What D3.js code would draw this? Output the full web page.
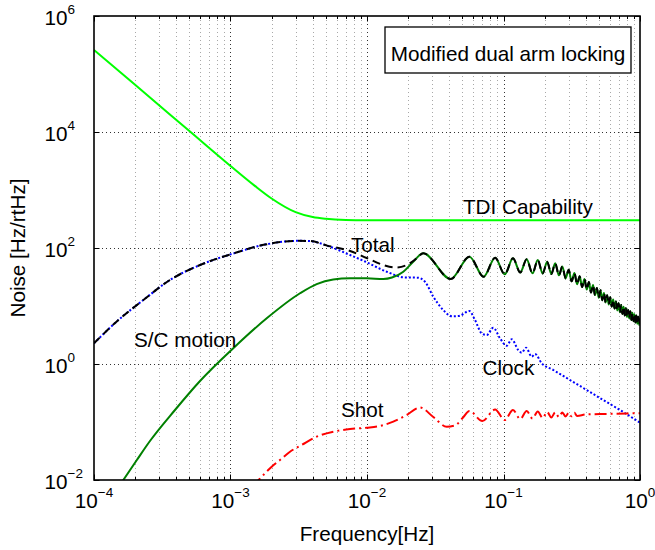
<!DOCTYPE html>
<html><head><meta charset="utf-8">
<script src="https://cdn.jsdelivr.net/npm/d3@7"></script>
<style>
body{margin:0;background:#fff;}
text{font-family:"Liberation Sans",Arial,Helvetica,sans-serif;fill:#000;}
</style></head><body>
<svg id="chart" width="655" height="550"></svg>
<script>
// ---------- data ----------
const xTickValues = [1e-4, 1e-3, 1e-2, 1e-1, 1];
const xTickExponents = ["\u22124", "\u22123", "\u22122", "\u22121", "0"];
const yTickValues = [1e-2, 1e0, 1e2, 1e4, 1e6];
const yTickExponents = ["\u22122", "0", "2", "4", "6"];

const tdiFreq   = [1e-4, 2e-4, 5e-4, 1e-3, 1.5e-3, 2e-3, 3e-3, 4e-3, 5e-3, 7e-3, 1e-2, 3e-2, 1e-1, 1];
const tdiValues = [2.6e5, 6.5e4, 1.04e4, 2600, 1190, 714, 415, 341, 318, 304, 301, 300, 300, 300];

const clockFreq = [1e-4, 1.51e-4, 2.30e-4, 3.60e-4, 5.98e-4, 1.02e-3, 1.79e-3, 3.12e-3, 3.82e-3, 5.09e-3,
  7.51e-3, 9.67e-3, 1.394e-2, 1.90e-2, 2.36e-2, 2.66e-2, 3.06e-2, 3.62e-2, 4.20e-2, 4.72e-2,
  5.62e-2, 6.18e-2, 6.92e-2, 7.53e-2, 8.42e-2, 9.43e-2, 0.1055, 0.1148, 0.1283, 0.1359,
  0.1462, 0.1609, 0.1701, 0.1905, 0.2317, 0.307, 0.407, 0.538, 0.714, 1];
const clockValues = [2.28, 5.74, 12.7, 28.1, 50.9, 78.8, 114.5, 133, 132, 110,
  75.7, 58.5, 39.0, 31.0, 30.8, 26.2, 14.5, 8.53, 6.64, 6.73,
  8.20, 5.74, 3.38, 3.16, 4.22, 2.77, 2.07, 2.67, 1.74, 1.57,
  1.91, 1.34, 1.49, 1.03, 0.788, 0.530, 0.356, 0.239, 0.161, 0.0973];

// S/C motion: smooth low-frequency part
const scFreq   = [1.5e-4, 1.64e-4, 2.06e-4, 2.57e-4, 3.92e-4, 5.98e-4, 1.048e-3, 1.842e-3, 3.23e-3,
  4.28e-3, 5.66e-3, 7.51e-3, 9.95e-3, 1.316e-2, 1.524e-2, 1.845e-2, 2.18e-2];
const scValues = [7.28e-3, 0.01, 0.0221, 0.047, 0.161, 0.509, 1.87, 6.14, 16.6,
  23.9, 28.6, 30.0, 30.0, 29.2, 31.0, 39.0, 58.0];
// S/C motion: oscillating part (alternating peaks / troughs)
const scOscFreq = [0.0258, 0.0411, 0.0563, 0.0716, 0.0868, 0.1021, 0.1173, 0.1326, 0.1478, 0.1631,
  0.1783, 0.1936, 0.2088, 0.2241, 0.2393, 0.2546, 0.2698, 0.2851, 0.3003, 0.3156,
  0.3308, 0.3461, 0.3613, 0.3766, 0.3918, 0.4071, 0.4223, 0.4376, 0.4528, 0.4681,
  0.4833, 0.4986, 0.5138, 0.5291, 0.5443, 0.5596, 0.5748, 0.5901, 0.6053, 0.6206,
  0.6358, 0.6511, 0.6663, 0.6816, 0.6968, 0.7121, 0.7273, 0.7426, 0.7578, 0.7731,
  0.7883, 0.8036, 0.8188, 0.8341, 0.8493, 0.8646, 0.8798, 0.8951, 0.9103, 0.9256,
  0.9408, 0.9561, 0.9713, 0.9866, 1.0];
const scOscValues = [81.0, 29.2, 70.8, 32.0, 68.0, 35.2, 66.4, 37.8, 64.1, 36.6,
  62.1, 36.3, 58.0, 35.6, 54.5, 33.8, 48.1, 29.9, 42.1, 26.6,
  36.9, 23.7, 32.6, 21.2, 29.1, 19.2, 25.9, 17.1, 23.0, 15.4,
  20.5, 13.9, 18.6, 12.6, 16.8, 11.5, 15.3, 10.6, 14.1, 9.76,
  12.9, 9.02, 12.0, 8.40, 11.1, 7.79, 10.4, 7.31, 9.73, 6.88,
  9.13, 6.49, 8.57, 6.11, 8.10, 5.76, 7.66, 5.47, 7.22, 5.21,
  6.86, 4.95, 6.51, 4.70, 6.1];

const shotFreq = [1.437e-3, 1.626e-3, 2.003e-3, 2.305e-3, 2.729e-3, 3.322e-3, 4.28e-3, 5.66e-3, 7.51e-3, 9.95e-3,
  1.245e-2, 1.558e-2, 1.953e-2, 2.444e-2, 3.06e-2, 3.84e-2, 4.41e-2, 5.07e-2, 5.63e-2, 7.0e-2,
  8.68e-2, 0.1021, 0.1173, 0.1326, 0.1478, 0.1631, 0.1783, 0.1936, 0.2088, 0.2241,
  0.2393, 0.2546, 0.2698, 0.2851, 0.3003, 0.3156, 0.3308, 0.3461, 0.40, 0.60, 1.0];
const shotValues = [7.57e-3, 0.01028, 0.01696, 0.02213, 0.03075, 0.0401, 0.0558, 0.0680, 0.0757, 0.0797,
  0.0853, 0.1012, 0.132, 0.178, 0.122, 0.083, 0.087, 0.1205, 0.155, 0.104,
  0.164, 0.108, 0.161, 0.1126, 0.155, 0.1149, 0.1517, 0.1172, 0.1487, 0.1196,
  0.147, 0.122, 0.1458, 0.1239, 0.1447, 0.1254, 0.1441, 0.1269, 0.135, 0.138, 0.142];

// Total: low/mid part; above 0.026 Hz it coincides with the S/C motion oscillations
const totalFreq   = [1e-4, 1.51e-4, 2.30e-4, 3.60e-4, 5.98e-4, 1.02e-3, 1.79e-3, 3.12e-3, 3.82e-3, 5.09e-3,
  7.51e-3, 9.95e-3, 1.316e-2, 1.604e-2, 1.953e-2, 2.312e-2];
const totalValues = [2.28, 5.74, 12.7, 28.1, 50.9, 78.8, 114.5, 133, 132, 110,
  88.8, 67.2, 50.9, 46.1, 50.9, 66.4];

const labels = [
  {text: "TDI Capability", f: 0.0505, v: 385},
  {text: "Total", f: 7.63e-3, v: 86.3},
  {text: "S/C motion", f: 1.963e-4, v: 1.99},
  {text: "Clock", f: 0.0702, v: 0.646},
  {text: "Shot", f: 6.45e-3, v: 0.1235}
];
const legendTitle = "Modified dual arm locking";

// ---------- layout ----------
const L = 94, R = 640, T = 16, B = 480;
const FS = 20.7;
const svg = d3.select("#chart");
const x = d3.scaleLog().domain([1e-4, 1]).range([L, R]);
const y = d3.scaleLog().domain([1e-2, 1e6]).range([B, T]);

svg.append("rect").attr("width", 655).attr("height", 550).attr("fill", "#fff");

svg.append("defs").append("clipPath").attr("id", "clip")
  .append("rect").attr("x", L).attr("y", T).attr("width", R - L).attr("height", B - T);

// grid
const grid = svg.append("g");
const allX = x.ticks();
const minorX = allX.filter(t => !xTickValues.some(m => Math.abs(Math.log10(t) - Math.log10(m)) < 1e-6));
grid.selectAll(".gminor").data(minorX).join("line")
  .attr("x1", d => Math.round(x(d)) + 0.5).attr("x2", d => Math.round(x(d)) + 0.5)
  .attr("y1", T).attr("y2", B)
  .attr("stroke", "#a8a8a8").attr("stroke-width", 1).attr("stroke-dasharray", "1,3");
grid.selectAll(".gmajx").data(xTickValues.slice(1, -1)).join("line")
  .attr("x1", d => Math.round(x(d)) + 0.5).attr("x2", d => Math.round(x(d)) + 0.5)
  .attr("y1", T).attr("y2", B)
  .attr("stroke", "#333").attr("stroke-width", 1).attr("stroke-dasharray", "1,3");
grid.selectAll(".gmajy").data(yTickValues.slice(1, -1)).join("line")
  .attr("y1", d => Math.round(y(d)) + 0.5).attr("y2", d => Math.round(y(d)) + 0.5)
  .attr("x1", L).attr("x2", R)
  .attr("stroke", "#333").attr("stroke-width", 1).attr("stroke-dasharray", "1,3");

// curves
const line = d3.line().x(d => x(d[0])).y(d => y(d[1])).curve(d3.curveMonotoneX);
const plot = svg.append("g").attr("clip-path", "url(#clip)");

const tdi = d3.zip(tdiFreq, tdiValues);
const clock = d3.zip(clockFreq, clockValues);
const sc = d3.zip(scFreq, scValues).concat(d3.zip(scOscFreq, scOscValues));
const shot = d3.zip(shotFreq, shotValues);
const total = d3.zip(totalFreq, totalValues).concat(d3.zip(scOscFreq, scOscValues));

plot.append("path").datum(tdi).attr("d", line).attr("fill", "none")
  .attr("stroke", "#00ff00").attr("stroke-width", 2);
plot.append("path").datum(clock).attr("d", line).attr("fill", "none")
  .attr("stroke", "#0000ff").attr("stroke-width", 2).attr("stroke-dasharray", "2,2");
plot.append("path").datum(sc).attr("d", line).attr("fill", "none")
  .attr("stroke", "#008000").attr("stroke-width", 2);
plot.append("path").datum(shot).attr("d", line).attr("fill", "none")
  .attr("stroke", "#ff0000").attr("stroke-width", 2).attr("stroke-dasharray", "12,4,2,4");
plot.append("path").datum(total).attr("d", line).attr("fill", "none")
  .attr("stroke", "#000").attr("stroke-width", 2).attr("stroke-dasharray", "8,5");

// box and ticks
const ax = svg.append("g");
ax.append("rect").attr("x", L).attr("y", T).attr("width", R - L).attr("height", B - T)
  .attr("fill", "none").attr("stroke", "#000").attr("stroke-width", 1.6);
const tk = ax.append("g").attr("stroke", "#000").attr("stroke-width", 1);
xTickValues.forEach(v => {
  const px = Math.round(x(v)) + 0.5;
  tk.append("line").attr("x1", px).attr("x2", px).attr("y1", B).attr("y2", B - 5.5);
  tk.append("line").attr("x1", px).attr("x2", px).attr("y1", T).attr("y2", T + 5.5);
});
minorX.forEach(v => {
  const px = Math.round(x(v)) + 0.5;
  tk.append("line").attr("x1", px).attr("x2", px).attr("y1", B).attr("y2", B - 3);
  tk.append("line").attr("x1", px).attr("x2", px).attr("y1", T).attr("y2", T + 3);
});
yTickValues.forEach(v => {
  const py = Math.round(y(v)) + 0.5;
  tk.append("line").attr("y1", py).attr("y2", py).attr("x1", L).attr("x2", L + 5.5);
  tk.append("line").attr("y1", py).attr("y2", py).attr("x1", R).attr("x2", R - 5.5);
});

// tick labels
xTickValues.forEach((v, i) => {
  const t = svg.append("text").attr("x", x(v)).attr("y", 508)
    .attr("text-anchor", "middle").attr("font-size", FS);
  t.append("tspan").text("10");
  t.append("tspan").attr("dy", -11).attr("font-size", 13.5).text(xTickExponents[i]);
});
yTickValues.forEach((v, i) => {
  const t = svg.append("text").attr("x", 44.5).attr("y", y(v) + 8.5)
    .attr("font-size", FS);
  t.append("tspan").text("10");
  t.append("tspan").attr("dy", -11).attr("font-size", 13.5).text(yTickExponents[i]);
});

// axis titles
svg.append("text").attr("x", (L + R) / 2).attr("y", 541).attr("text-anchor", "middle")
  .attr("font-size", FS).text("Frequency[Hz]");
svg.append("text").attr("transform", `translate(25,${(T + B) / 2}) rotate(-90)`)
  .attr("text-anchor", "middle").attr("font-size", FS).text("Noise [Hz/rtHz]");

// curve labels
labels.forEach(d => {
  svg.append("text").attr("x", x(d.f)).attr("y", y(d.v)).attr("font-size", FS).text(d.text);
});

// legend/title box
svg.append("rect").attr("x", 385).attr("y", 27).attr("width", 246).attr("height", 46)
  .attr("fill", "#fff").attr("stroke", "#000").attr("stroke-width", 1.3);
svg.append("text").attr("x", 508).attr("y", 60.5).attr("text-anchor", "middle")
  .attr("font-size", FS).text(legendTitle);
</script>
</body></html>
